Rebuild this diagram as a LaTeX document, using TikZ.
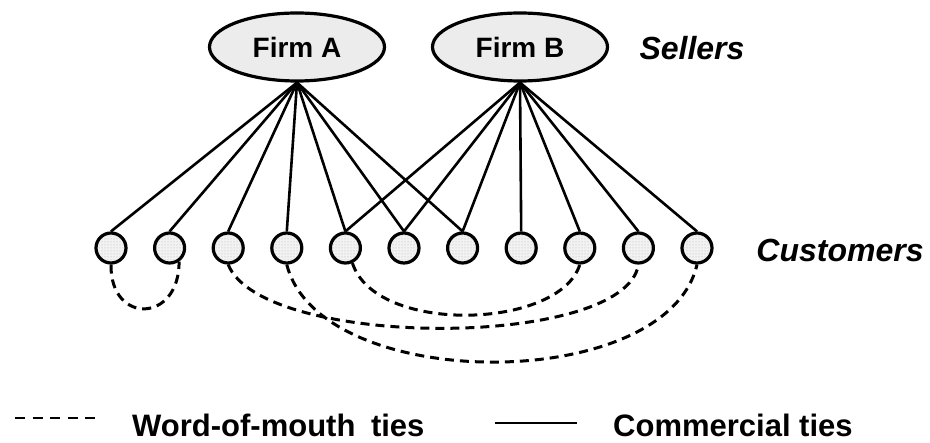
\documentclass[tikz,border=0pt]{standalone}
\usepackage{fontspec}
\setmainfont{Liberation Sans}
\usetikzlibrary{shapes,patterns}

\begin{document}
\begin{tikzpicture}[x=1pt,y=-1pt]
        \tikzstyle{firm}=[ellipse,draw,line width=3.2pt,fill=gray!15,minimum width=175pt,minimum height=68pt,font=\fontsize{28}{32}\selectfont\bfseries]
        \tikzstyle{cust}=[circle,draw,line width=3.2pt,minimum size=30pt,inner sep=0pt,preaction={fill=gray!10},pattern=dots,pattern color=gray!60]
        \tikzstyle{side}=[font=\fontsize{32}{36}\selectfont\bfseries\itshape]
        \tikzstyle{key}=[anchor=base west,inner sep=0pt,font=\fontsize{31}{36}\selectfont\bfseries]
        \tikzstyle{commercial}=[line width=2.6pt]
        \tikzstyle{wom}=[line width=3pt,dash pattern=on 9pt off 6pt]
        \useasboundingbox (0,0) rectangle (930,443);
        % sellers
        \node[firm] (fa) at (297,47) {Firm A};
        \node[firm] (fb) at (520,47) {Firm B};
        \node[side] (sel) at (692,48) {Sellers};
        % customers
        \foreach \i [evaluate=\i as \x using 111+58.6*(\i-1)] in {1,...,11}
                \node[cust] (c\i) at (\x,248) {};
        \node[side] (cus) at (840,250) {Customers};
        % commercial ties
        \foreach \i in {1,...,7} \draw[commercial] (fa.south) -- (c\i.north);
        \foreach \i in {5,...,11} \draw[commercial] (fb.south) -- (c\i.north);
        % word-of-mouth ties
        \draw[wom] (c1.south) .. controls +(-1,60) and +(0,62) .. (c2.-55);
        \draw[wom] (c3.south) .. controls +(34,85) and +(-13,85) .. (c10.south);
        \draw[wom] (c4.south) .. controls +(33,130) and +(-30,130) .. (c11.south);
        \draw[wom] (c5.-65) .. controls +(23,72) and +(-20,65) .. (c9.south);
        % legend
        \coordinate (w1) at (15,418);
        \coordinate (w2) at (95,418);
        \draw[line width=2pt,dash pattern=on 10pt off 7.5pt] (w1) -- (w2);
        \node[key] (wl) at (132,437) {Word-of-mouth\hspace{7pt} ties};
        \coordinate (s1) at (495,423);
        \coordinate (s2) at (577,423);
        \draw[line width=2.4pt] (s1) -- (s2);
        \node[key] (cl) at (613,437) {Commercial ties};
\end{tikzpicture}
\end{document}
